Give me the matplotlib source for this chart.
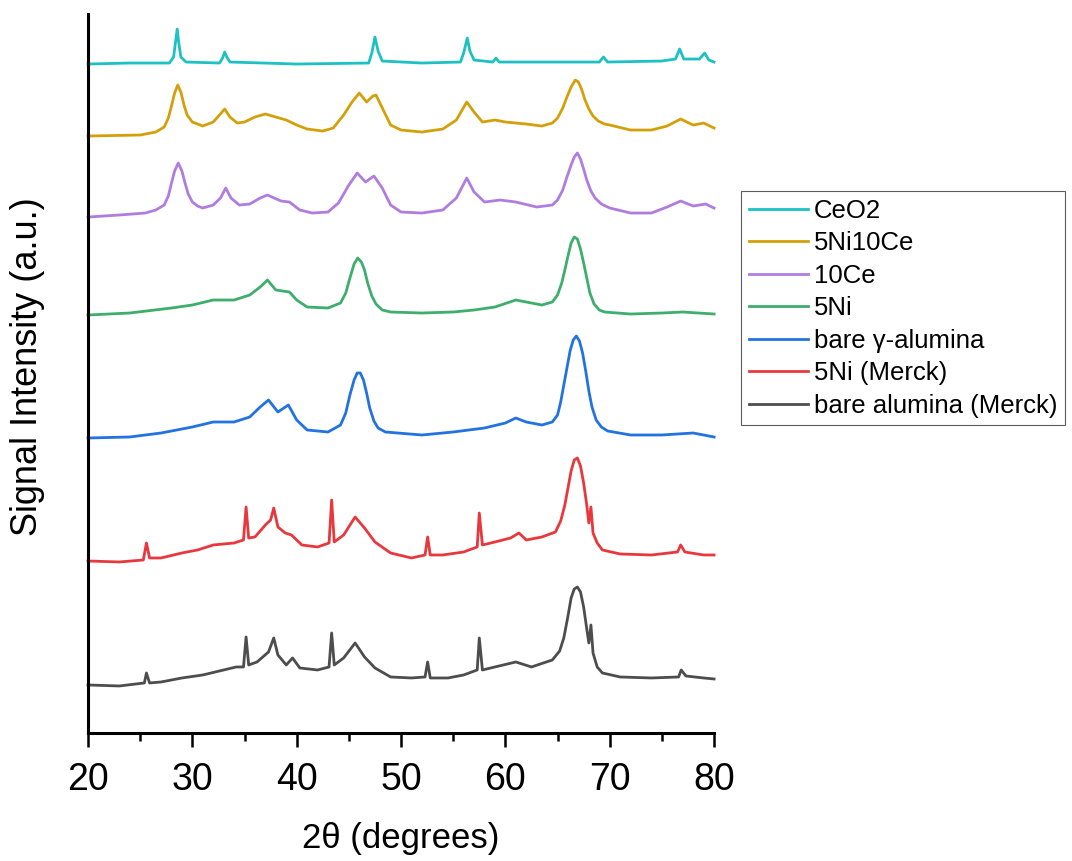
import matplotlib
matplotlib.use("Agg")
import matplotlib.pyplot as plt
from matplotlib.ticker import MultipleLocator

plt.rcParams['font.family'] = ['Liberation Sans', 'DejaVu Sans']

# 2theta (deg) / intensity (a.u., stacked)
ceo2_x = [20, 24, 27.8, 28.2, 28.4, 28.55, 28.7, 28.9, 29.4, 32.6, 32.9, 33.1, 33.3, 33.6,
          40, 46.9, 47.2, 47.5, 47.8, 48.2, 52, 55.7, 56.0, 56.35, 56.6, 57.0, 58.8, 59.1,
          59.4, 65, 69.0, 69.4, 69.8, 75, 76.3, 76.7, 77.1, 78.6, 79.1, 79.5, 80]
ceo2_y = [669, 670, 670, 676, 692, 704, 690, 676, 671, 670, 675, 681, 676, 671,
          669, 670, 680, 696, 682, 672, 670, 671, 680, 695, 682, 673, 671, 675,
          671, 671, 671, 676, 671, 672, 674, 684, 674, 674, 680, 673, 671]

ni5ce10_x = [20, 25, 26.5, 27.3, 27.7, 28.0, 28.3, 28.6, 28.9, 29.2, 29.5, 30, 31, 32, 32.6,
             33.1, 33.6, 34.3, 35, 36, 37, 38, 39, 40, 41, 42.5, 43.5, 44.5, 45.3, 46, 46.7,
             47.3, 47.6, 48.3, 49, 50, 52, 54, 55.3, 56.3, 57, 57.8, 59, 60, 62, 63.5, 64.5,
             65.0, 65.5, 65.9, 66.3, 66.7, 67.0, 67.3, 67.6, 68.0, 68.4, 68.9, 69.5, 70, 72,
             74, 75.5, 76.8, 78, 79, 80]
ni5ce10_y = [597, 598, 601, 606, 615, 627, 640, 648, 641, 628, 618, 611, 607, 611, 618,
             624, 616, 610, 611, 616, 619, 616, 613, 608, 604, 602, 605, 618, 631, 640, 631,
             637, 638, 623, 608, 603, 601, 604, 613, 631, 621, 611, 613, 611, 609, 607, 610,
             615, 625, 636, 646, 653, 651, 644, 634, 624, 617, 612, 609, 608, 603,
             603, 607, 614, 608, 610, 605]

ce10_x = [20, 23, 25.5, 26.5, 27.3, 27.7, 28.0, 28.3, 28.65, 29.0, 29.3, 29.6, 30.0, 30.5,
          31, 32, 32.7, 33.2, 33.7, 34.5, 35.5, 36.5, 37.2, 38.5, 39.3, 40.3, 41.5, 43, 44,
          45, 45.8, 46.6, 47.4, 48.2, 49, 50, 52, 54, 55.3, 56.3, 57, 58, 59.5, 61, 63, 64.5,
          65.0, 65.5, 65.9, 66.3, 66.6, 66.9, 67.2, 67.5, 67.8, 68.2, 68.6, 69.2, 70, 72, 74,
          75.5, 76.8, 78, 79.2, 80]
ce10_y = [516, 518, 520, 523, 528, 537, 550, 562, 570, 562, 550, 539, 531, 527,
          525, 528, 535, 545, 535, 528, 529, 535, 538, 532, 531, 523, 520, 521, 530,
          548, 560, 551, 557, 545, 528, 521, 520, 523, 535, 555, 541, 531, 533, 531, 526, 528,
          533, 543, 556, 568, 576, 580, 574, 564, 553, 542, 535, 529, 525, 520, 520,
          526, 532, 527, 529, 525]

ni5_x = [20, 24, 28, 30, 32, 34, 35.5, 36.5, 37.2, 38, 39.3, 40, 41, 43, 44.2, 44.7, 45.1,
         45.5, 45.85, 46.2, 46.5, 46.8, 47.2, 47.6, 48.2, 49, 52, 55, 57, 59, 61, 62, 63.5,
         64.5, 65.0, 65.4, 65.7, 66.0, 66.3, 66.6, 66.9, 67.2, 67.5, 67.8, 68.1, 68.5, 69.0,
         69.5, 72, 75, 77, 80]
ni5_y = [418, 420, 425, 428, 433, 433, 438, 446, 453, 443, 441, 433, 426, 425, 430, 440, 455,
         469, 475, 471, 463, 450, 437, 429, 423, 421, 420, 421, 423, 426, 433, 431, 428,
         431, 438, 450, 463, 477, 490, 496, 494, 484, 470, 455, 440, 429, 423,
         421, 419, 420, 421, 419]

gamma_x = [20, 24, 27, 30, 32, 34, 35.5, 36.5, 37.3, 38.2, 39.2, 40, 41, 43, 44.2, 44.7, 45.1,
           45.5, 45.8, 46.1, 46.4, 46.7, 47.0, 47.4, 47.8, 48.5, 52, 55, 58, 60, 61, 62, 63.5,
           64.5, 65.0, 65.3, 65.6, 65.9, 66.2, 66.5, 66.8, 67.1, 67.4, 67.7, 68.0, 68.3, 68.7,
           69.2, 69.8, 72, 75, 78, 80]
gamma_y = [295, 296, 300, 306, 311, 311, 316, 326, 333, 321, 328, 313, 303, 301, 308, 320, 338,
           353, 360, 360, 353, 340, 325, 312, 305, 301, 298, 301, 305, 310, 315, 311, 308,
           311, 318, 331, 348, 365, 382, 393, 397, 392, 380, 362, 342, 326, 313,
           306, 302, 298, 298, 300, 296]

ni5m_x = [20, 23, 25.3, 25.6, 25.9, 27, 29, 30.5, 32, 34, 34.9, 35.15, 35.4, 36, 37, 37.5,
          37.8, 38.2, 38.9, 39.5, 40.5, 42, 43.1, 43.35, 43.6, 44.5, 45.6, 46.5, 47.5, 49,
          51, 52.3, 52.55, 52.8, 54, 56, 57.3, 57.5, 57.8, 59, 60.5, 61.3, 62, 63.5, 64.8,
          65.3, 65.7, 66.0, 66.3, 66.6, 66.9, 67.2, 67.5, 67.8, 68.0, 68.2, 68.4, 68.8, 69.3,
          71, 74, 76.5, 76.8, 77.2, 79, 80]
ni5m_y = [172, 171, 173, 190, 175, 175, 180, 183, 188, 190, 193, 226, 195, 196, 208, 213,
          225, 206, 200, 198, 188, 186, 190, 233, 191, 198, 216, 205, 191, 180,
          175, 178, 196, 178, 178, 181, 186, 220, 188, 191, 195, 200, 193, 196, 201,
          212, 228, 245, 262, 273, 275, 267, 250, 228, 210, 226, 200, 190, 183,
          179, 178, 181, 188, 181, 178, 178]

alm_x = [20, 23, 25.4, 25.6, 25.9, 27, 29, 31, 33, 34.2, 34.9, 35.15, 35.4, 36.2, 37.3, 37.8,
         38.2, 39, 39.6, 40.3, 42, 43.1, 43.35, 43.6, 44.5, 45.6, 46.5, 47.5, 49, 51, 52.3,
         52.55, 52.8, 54.5, 56, 57.3, 57.5, 57.8, 59, 61, 62.5, 64.5, 65.2, 65.6, 66.0, 66.3,
         66.6, 66.9, 67.2, 67.5, 67.8, 68.0, 68.2, 68.4, 68.8, 69.3, 71, 74, 76.6, 76.85,
         77.3, 79, 80]
alm_y = [48, 47, 50, 60, 50, 51, 55, 58, 63, 66, 66, 96, 68, 71, 81, 95,
         78, 68, 75, 65, 63, 66, 100, 68, 75, 90, 76, 65, 56, 55, 56,
         71, 55, 55, 58, 63, 95, 63, 66, 71, 66, 73, 82, 95, 117, 135,
         144, 146, 141, 126, 104, 90, 108, 80, 66, 60, 56, 55, 56, 63,
         57, 55, 54]

labels = ["CeO2", "5Ni10Ce", "10Ce", "5Ni", "bare γ-alumina", "5Ni (Merck)",
          "bare alumina (Merck)"]
colors = ["#1CC1C4", "#D4A00A", "#B07CE0", "#3DAE6B", "#2272E0", "#E8383D", "#4D4D4D"]
series = [(ceo2_x, ceo2_y), (ni5ce10_x, ni5ce10_y), (ce10_x, ce10_y), (ni5_x, ni5_y),
          (gamma_x, gamma_y), (ni5m_x, ni5m_y), (alm_x, alm_y)]

fig = plt.figure(figsize=(10.72, 8.61), dpi=100)
ax = fig.add_axes([0.0821, 0.1487, 0.5840, 0.8350])

for (x, y), c, lab in zip(series, colors, labels):
    ax.plot(x, y, color=c, lw=2.0, label=lab, clip_on=False)

ax.set_xlim(20, 80)
ax.set_ylim(0, 719)
ax.xaxis.set_major_locator(MultipleLocator(10))
ax.xaxis.set_minor_locator(MultipleLocator(5))
ax.set_yticks([])
for s in ["top", "right"]:
    ax.spines[s].set_visible(False)
for s in ["left", "bottom"]:
    ax.spines[s].set_linewidth(2.2)
ax.tick_params(axis="x", which="major", direction="out", length=10, width=1.8,
               labelsize=27, pad=11)
ax.tick_params(axis="x", which="minor", direction="out", length=6, width=1.8)
ax.set_xlabel("2θ (degrees)", fontsize=25, labelpad=17)
fig.text(28 / 1072, 1 - 367 / 861, "Signal Intensity (a.u.)", rotation=90,
         fontsize=26, ha="center", va="center")

leg = ax.legend(loc="upper left", bbox_to_anchor=(741 / 1072, 1 - 191 / 861),
                bbox_transform=fig.transFigure, fontsize=18.5, frameon=True,
                fancybox=False, edgecolor="#333333", borderaxespad=0,
                handlelength=2.3, handletextpad=0.25, labelspacing=0.33,
                borderpad=0.3)
leg.get_frame().set_linewidth(0.8)
for line in leg.get_lines():
    line.set_linewidth(2)

fig.savefig("out.png", dpi=100)
